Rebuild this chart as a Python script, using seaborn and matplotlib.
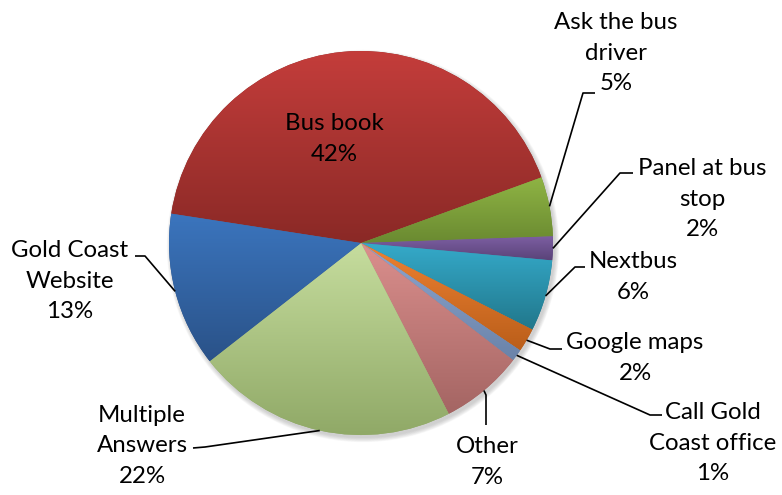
import numpy as np
import matplotlib
matplotlib.use("Agg")
import matplotlib.pyplot as plt
import seaborn as sns
from matplotlib.colors import to_rgb

# Survey: where people find bus timetable information
categories = ["Bus book", "Ask the bus\ndriver", "Panel at bus\nstop", "Nextbus",
              "Google maps", "Call Gold\nCoast office", "Other",
              "Multiple\nAnswers", "Gold Coast\nWebsite"]
shares = [42, 5, 2, 6, 2, 1, 7, 22, 13]

# Two-stop vertical gradient for each slice (top, bottom)
top_colors = ["#C43D3B", "#8FB444", "#7E60A4", "#35AACA", "#EF8232",
              "#8FA6CF", "#DB8F8D", "#C6DD9E", "#3B75BE"]
bottom_colors = ["#8A2926", "#6A8A31", "#5A4379", "#21778B", "#BA5E1A",
                 "#6A83A9", "#A46563", "#90A967", "#2A5288"]

# Label block centres and leader-line bends (pixel coordinates, y downward)
label_pos = [(334, 139), (616, 53), (702, 199), (633, 277), (635, 358),
             (713, 443), (487, 462), (142, 446), (70, 281)]
leader_bends = [[], [(583, 93), (595, 93)], [(620, 173), (633, 173)],
                [(575, 267), (585, 267)], [(550, 349), (562, 349)],
                [(650, 415), (662, 415)], [(486, 395), (486, 425)],
                [(205, 447), (193, 448)], [(145, 256), (135, 256)]]

sns.set_theme(style="white")
plt.rcParams["font.family"] = ["Lato", "DejaVu Sans"]

W, H = 782, 495
fig = plt.figure(figsize=(W / 100, H / 100), dpi=100)
ax = fig.add_axes([0, 0, 1, 1])
cx, cy, R = 361, H - 243, 192

# soft drop shadow under the pie
for i in range(8):
    ax.add_patch(plt.Circle((cx + 2, cy - 3), R + 0.6 * i, color="#808080",
                            alpha=0.05, lw=0, zorder=0))

wedges, _ = ax.pie(shares, startangle=171.2, counterclock=False,
                   center=(cx, cy), radius=R, colors=bottom_colors,
                   wedgeprops=dict(linewidth=0, edgecolor="none"))

t = np.linspace(0, 1, 256)[:, None]
for w, ct, cb in zip(wedges, top_colors, bottom_colors):
    w.set_zorder(1)
    ext = w.get_path().get_extents()
    grad = (1 - t) * np.array(to_rgb(cb)) + t * np.array(to_rgb(ct))
    img = ax.imshow(grad[:, None, :], extent=[ext.x0, ext.x1, ext.y0, ext.y1],
                    origin="lower", aspect="auto", interpolation="bilinear",
                    zorder=2)
    img.set_clip_path(w)

for w, cat, val, (lx, ly), bends in zip(wedges, categories, shares,
                                        label_pos, leader_bends):
    ax.text(lx, H - ly, f"{cat}\n{val}%", ha="center", va="center",
            fontsize=17.3, color="black", linespacing=1.55, zorder=5)
    if bends:
        mid = np.deg2rad((w.theta1 + w.theta2) / 2)
        xs = [cx + R * np.cos(mid)] + [b[0] for b in bends]
        ys = [cy + R * np.sin(mid)] + [H - b[1] for b in bends]
        ax.plot(xs, ys, color="black", lw=1.2, zorder=4,
                solid_capstyle="butt")

ax.set_xlim(0, W)
ax.set_ylim(0, H)
ax.set_aspect("equal")
ax.axis("off")
fig.savefig("out.png", dpi=100)
